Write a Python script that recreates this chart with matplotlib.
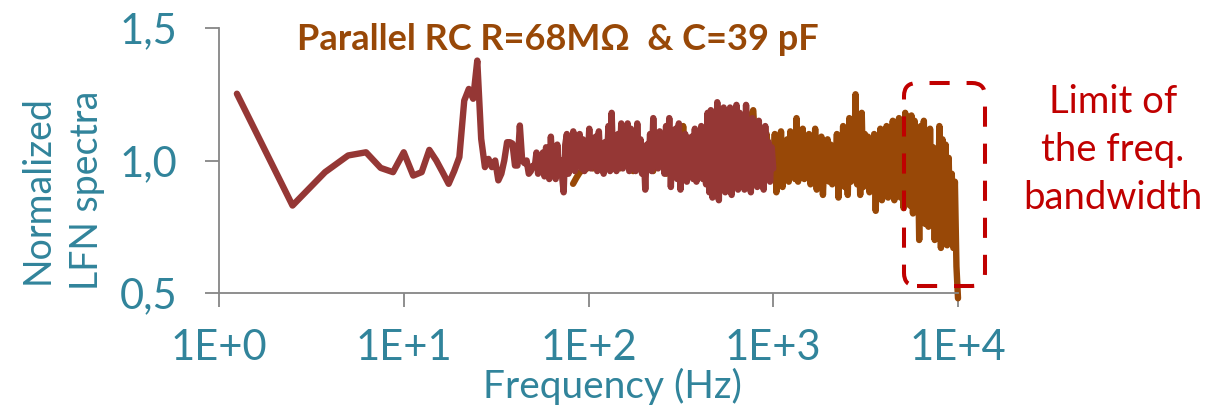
import matplotlib
matplotlib.use("Agg")
import matplotlib.pyplot as plt
import numpy as np
from matplotlib.patches import FancyBboxPatch
from matplotlib.transforms import IdentityTransform
from matplotlib.ticker import NullLocator

# --- data ------------------------------------------------------------------
# red spectrum: resolved bins (1.25 Hz spacing) up to 50 Hz
red_freq_a = np.arange(1, 41) * 1.25
red_vals_a = [1.252, 0.830, 0.956, 1.019, 1.031, 0.972, 0.956, 1.031, 0.943, 0.956,
              1.040, 1.000, 0.955, 0.912, 0.960, 1.013, 1.226, 1.270, 1.233, 1.377,
              1.082, 0.975, 1.006, 0.975, 1.000, 0.925, 0.950, 1.000, 1.069, 1.069,
              1.064, 0.981, 0.981, 1.132, 1.000, 0.990, 1.000, 0.950, 0.960, 0.980]
# red spectrum: dense part 51 Hz .. 1 kHz
red_vals_b = [0.98, 1.03, 0.95, 1.02, 0.97, 1.03, 0.94, 1.05, 0.96, 0.93,
              1.09, 0.97, 1.04, 0.93, 1.06, 0.96, 1.00, 0.94, 0.88, 1.06,
              1.10, 0.95, 1.07, 0.99, 1.11, 0.96, 1.04, 0.98, 1.10, 0.97,
              1.08, 0.96, 1.05, 1.00, 1.12, 0.97, 1.06, 0.99, 1.09, 0.96,
              1.11, 0.98, 1.04, 0.95, 1.07, 0.99, 1.13, 0.96, 1.18, 0.97,
              1.05, 0.96, 1.10, 0.98, 1.14, 0.97, 1.06, 0.99, 1.14, 0.96,
              1.12, 0.97, 1.05, 0.96, 1.14, 0.98, 1.08, 0.95, 1.04, 0.89,
              1.06, 0.97, 1.10, 0.96, 1.16, 0.98, 1.07, 0.97, 1.11, 0.99,
              1.08, 0.95, 1.13, 0.97, 1.16, 0.90, 1.09, 0.96, 1.12, 0.93,
              1.14, 0.89, 1.06, 0.95, 1.10, 0.92, 1.04, 0.96, 1.09, 0.93,
              1.12, 0.92, 1.08, 0.95, 1.13, 0.93, 1.06, 0.91, 1.18, 0.88,
              1.19, 0.86, 1.14, 0.93, 1.22, 0.85, 1.17, 0.92, 1.20, 0.88,
              1.15, 0.90, 1.20, 0.87, 1.12, 0.94, 1.21, 0.89, 1.18, 0.91,
              1.16, 0.89, 1.21, 0.92, 1.14, 0.88, 1.16, 0.93, 1.12, 0.90,
              1.15, 0.92, 1.10, 0.89, 1.13, 0.94, 1.07, 0.92, 1.05, 0.97]
# orange spectrum: 82 Hz .. 1 kHz (mostly under the red one)
orange_vals_a = [0.912, 0.935, 0.955, 0.965, 0.968, 0.980, 0.970, 0.975, 0.975, 0.972,
                 0.978, 0.975, 0.970, 1.02, 0.97, 1.05, 0.98, 1.06, 0.96, 1.08,
                 0.97, 1.04, 0.99, 1.07, 0.96, 1.10, 0.98, 1.06, 0.95, 1.08,
                 0.97, 1.12, 0.99, 1.13, 0.96, 1.08, 0.95, 1.11, 0.97, 1.06,
                 0.94, 1.10, 0.96, 1.08, 0.93, 1.12, 0.95, 1.09, 0.92, 1.14,
                 0.96, 1.10, 0.94, 1.16, 1.19, 0.97, 1.12, 0.93, 1.10, 0.95]
# orange spectrum: 1 kHz .. 10 kHz
orange_vals_b = [0.95, 1.10, 0.88, 1.06, 0.93, 1.11, 0.90, 1.03, 0.94, 1.08,
                 0.92, 1.11, 0.95, 1.04, 0.93, 1.16, 0.92, 1.09, 0.94, 1.12,
                 0.93, 1.05, 0.96, 1.10, 0.91, 1.04, 0.95, 1.12, 0.89, 1.07,
                 0.93, 1.09, 0.87, 1.02, 0.94, 1.08, 0.92, 1.06, 0.91, 1.02,
                 0.95, 1.10, 0.86, 1.05, 0.93, 1.13, 0.90, 1.07, 0.87, 1.16,
                 0.92, 1.08, 0.94, 1.25, 0.91, 1.12, 0.87, 1.18, 0.90, 1.10,
                 0.93, 1.09, 0.88, 1.06, 0.91, 1.10, 0.81, 1.08, 0.90, 1.12,
                 0.85, 1.10, 0.92, 1.13, 0.86, 1.07, 0.90, 1.15, 0.85, 1.12,
                 0.89, 1.16, 0.86, 1.12, 0.82, 1.18, 0.85, 1.14, 0.83, 1.17,
                 0.80, 1.15, 0.84, 1.11, 0.70, 1.13, 0.78, 1.15, 0.76, 1.08,
                 0.75, 1.12, 0.80, 1.05, 0.70, 1.00, 0.74, 1.13, 0.67, 1.08,
                 0.71, 1.06, 0.68, 1.01, 0.72, 0.95, 0.67, 0.92, 0.60, 0.48]

x_ticks = [1, 10, 100, 1000, 10000]
x_tick_labels = ["1E+0", "1E+1", "1E+2", "1E+3", "1E+4"]
y_ticks = [0.5, 1.0, 1.5]
y_tick_labels = ["0,5", "1,0", "1,5"]

red_freq = np.concatenate([red_freq_a, np.geomspace(51.25, 1000, len(red_vals_b))])
red_vals = np.concatenate([red_vals_a, red_vals_b])
orange_freq = np.concatenate([np.geomspace(82.5, 1000, len(orange_vals_a), endpoint=False),
                              np.geomspace(1000, 10000, len(orange_vals_b))])
orange_vals = np.concatenate([orange_vals_a, orange_vals_b])

# --- styling ---------------------------------------------------------------
plt.rcParams['font.family'] = ['Lato', 'DejaVu Sans']
teal = "#31849B"
red = "#953735"
orange = "#984807"
alert = "#C00000"
grey = "#868686"

W, H = 1211, 412
fig = plt.figure(figsize=(W / 100, H / 100), dpi=100)
ax = fig.add_axes([219 / W, 119 / H, 739 / W, 265 / H])

ax.plot(orange_freq, orange_vals, color=orange, lw=4.6,
        solid_joinstyle='round', solid_capstyle='round', clip_on=False)
ax.plot(red_freq, red_vals, color=red, lw=4.6,
        solid_joinstyle='round', solid_capstyle='round', clip_on=False)

ax.set_xscale('log')
ax.set_xlim(1, 1e4)
ax.set_ylim(0.5, 1.5)
ax.set_xticks(x_ticks)
ax.set_xticklabels(x_tick_labels)
ax.set_yticks(y_ticks)
ax.set_yticklabels(y_tick_labels)
ax.xaxis.set_minor_locator(NullLocator())

for side in ['top', 'right']:
    ax.spines[side].set_visible(False)
for side in ['left', 'bottom']:
    ax.spines[side].set_color(grey)
    ax.spines[side].set_linewidth(1.3)
ax.tick_params(axis='both', direction='out', length=10, width=1.3, color=grey,
               labelcolor=teal, labelsize=30)
ax.tick_params(axis='y', pad=20)
ax.tick_params(axis='x', pad=16)

fig.text(612 / W, 1 - 386 / H, "Frequency (Hz)", color=teal, fontsize=28,
         ha='center', va='center')
fig.text(62 / W, 1 - 190 / H, "Normalized\nLFN spectra", color=teal, fontsize=27,
         ha='center', va='center', rotation=90, linespacing=1.45)
fig.text(558 / W, 1 - 40 / H, "Parallel RC R=68M\u03a9  & C=39 pF", color=orange,
         fontsize=26, fontweight='bold', ha='center', va='center')
fig.text(1113 / W, 1 - 150 / H, "Limit of\nthe freq.\nbandwidth", color=alert,
         fontsize=27.5, ha='center', va='center', linespacing=1.42)

box = FancyBboxPatch((904, H - 286), 81, 203,
                     boxstyle="round,pad=0,rounding_size=13",
                     transform=IdentityTransform(), fill=False,
                     edgecolor=alert, linewidth=2.9, linestyle=(0, (5, 4.2)),
                     zorder=5)
fig.patches.append(box)

fig.savefig("out.png", dpi=100)
